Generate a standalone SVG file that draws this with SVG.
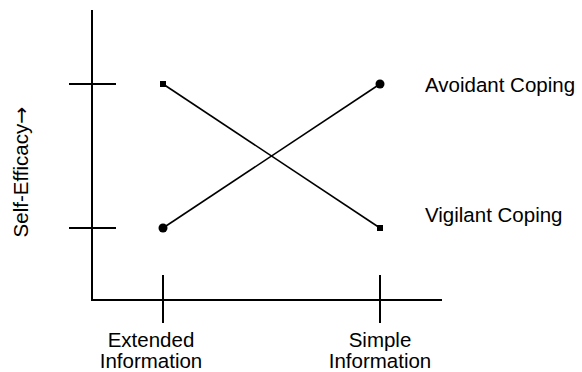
<svg xmlns="http://www.w3.org/2000/svg" width="582" height="372" viewBox="0 0 582 372">
<style>
.ax{stroke:#000;stroke-width:2;fill:none}
.ln{stroke:#000;stroke-width:1.6;fill:none}
text{font-family:"Liberation Sans",Arial,sans-serif;font-size:20.5px;fill:#000}
</style>
<rect width="582" height="372" fill="#fff"/>
<g id="axes">
<path class="ax" d="M92 10V300H442"/>
<path class="ax" d="M69 84H116M69 228H116M163 275V323M380 275V323"/>
</g>
<g id="connectors">
<line class="ln" x1="163" y1="84" x2="380" y2="228"/>
<line class="ln" x1="163" y1="228" x2="380" y2="84"/>
</g>
<g id="avoidant">
<rect x="160" y="81" width="6" height="6"/>
<circle cx="380" cy="84" r="4.5"/>
<text x="425" y="92">Avoidant Coping</text>
</g>
<g id="vigilant">
<circle cx="163" cy="228" r="4.5"/>
<rect x="377" y="225" width="6" height="6"/>
<text x="425" y="222">Vigilant Coping</text>
</g>
<g id="xlabels">
<text x="151" y="347" text-anchor="middle">Extended</text>
<text x="151" y="368" text-anchor="middle">Information</text>
<text x="380" y="347" text-anchor="middle">Simple</text>
<text x="380" y="368" text-anchor="middle">Information</text>
</g>
<g id="ylabel">
<text transform="translate(28,172) rotate(-90)" text-anchor="middle">Self-Efficacy<tspan font-family="DejaVu Sans, sans-serif">→</tspan></text>
</g>
</svg>
